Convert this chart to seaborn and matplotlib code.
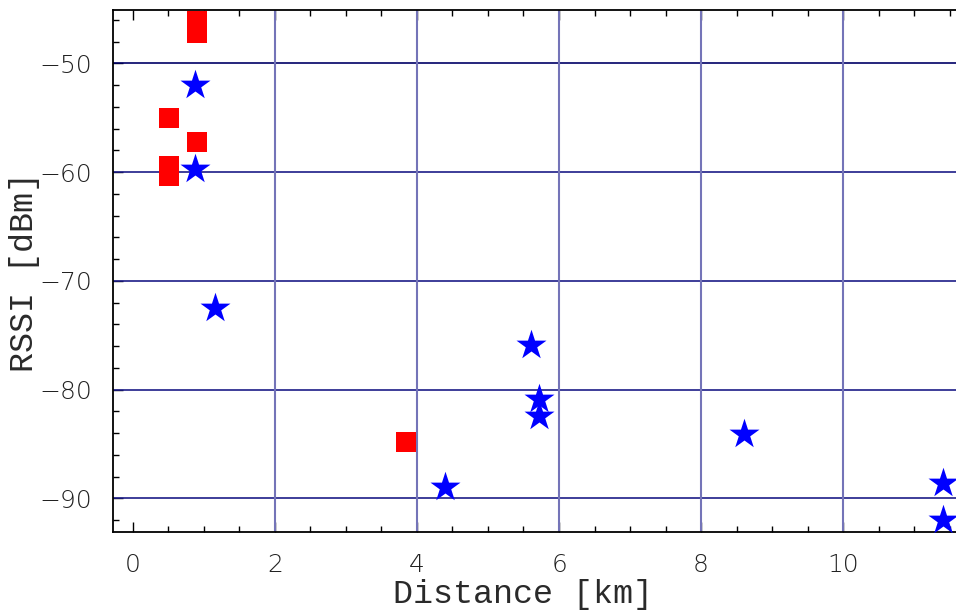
import matplotlib
matplotlib.use("Agg")
import matplotlib.pyplot as plt
from matplotlib.ticker import MultipleLocator
import seaborn as sns
import pandas as pd

# Red squares
sq_dist = [0.90, 0.90, 0.51, 0.90, 0.51, 0.51, 3.84]
sq_rssi = [-46.1, -47.2, -55.0, -57.2, -59.4, -60.4, -84.8]

# Blue stars
st_dist = [0.87, 0.87, 1.15, 5.60, 5.72, 5.72, 8.60, 4.39, 11.40, 11.40]
st_rssi = [-52.0, -59.7, -72.5, -75.9, -80.9, -82.4, -84.1, -89.0, -88.6, -92.0]

xticks = [0, 2, 4, 6, 8, 10]
yticks = [-90, -80, -70, -60, -50]

sns.set_theme(style="white")
plt.rcParams['font.family'] = ['DejaVu Sans']

fig = plt.figure(figsize=(9.56, 6.14), dpi=100)
ax = fig.add_axes([113/956, 1-532/614, 1-113/956, (532-10)/614])

ax.set_xlim(-0.28, 11.59)
ax.set_ylim(-93.1, -45.1)

# grid lines
for yv in yticks:
    ax.axhline(yv, color='#1c1c88' if yv != -50 else '#000066', lw=1.2, zorder=1)
for xv in xticks[1:]:
    ax.axvline(xv, color='#7474b8', lw=1.5, zorder=1)

df_sq = pd.DataFrame({'d': sq_dist, 'r': sq_rssi})
df_st = pd.DataFrame({'d': st_dist, 'r': st_rssi})
sns.scatterplot(data=df_sq, x='d', y='r', marker='s', s=14.4**2, color='#ff0000',
                linewidth=0, ax=ax, zorder=3)
sns.scatterplot(data=df_st, x='d', y='r', marker='*', s=22.7**2, color='#0000ff',
                linewidth=0, ax=ax, zorder=4)

ax.set_xticks(xticks)
ax.set_yticks(yticks)
ax.xaxis.set_minor_locator(MultipleLocator(0.5))
ax.yaxis.set_minor_locator(MultipleLocator(2))
ax.tick_params(which='both', direction='in', top=True, bottom=True, left=True, right=False,
               color='black', width=1)
ax.tick_params(which='major', length=7, pad=15, labelsize=18, labelcolor='#222222')
ax.tick_params(which='minor', length=4)
for lab in ax.get_xticklabels() + ax.get_yticklabels():
    lab.set_fontweight('light')

for s in ['left', 'bottom', 'top']:
    ax.spines[s].set_visible(True)
    ax.spines[s].set_color('black')
    ax.spines[s].set_linewidth(1.3)
ax.spines['right'].set_visible(False)

ax.set_xlabel('Distance [km]', fontfamily='Liberation Mono', fontsize=24, color='#2a2a2a')
ax.set_ylabel('RSSI [dBm]', fontfamily='Liberation Mono', fontsize=24, color='#2a2a2a')
ax.xaxis.set_label_coords((523-113)/(956-113), -(595-532)/(532-10), transform=ax.transAxes)
ax.yaxis.set_label_coords(-(113-25)/(956-113), (532-272)/(532-10), transform=ax.transAxes)
ax.xaxis.label.set_va('center')
ax.yaxis.label.set_va('center')

fig.savefig('out.png', dpi=100)
